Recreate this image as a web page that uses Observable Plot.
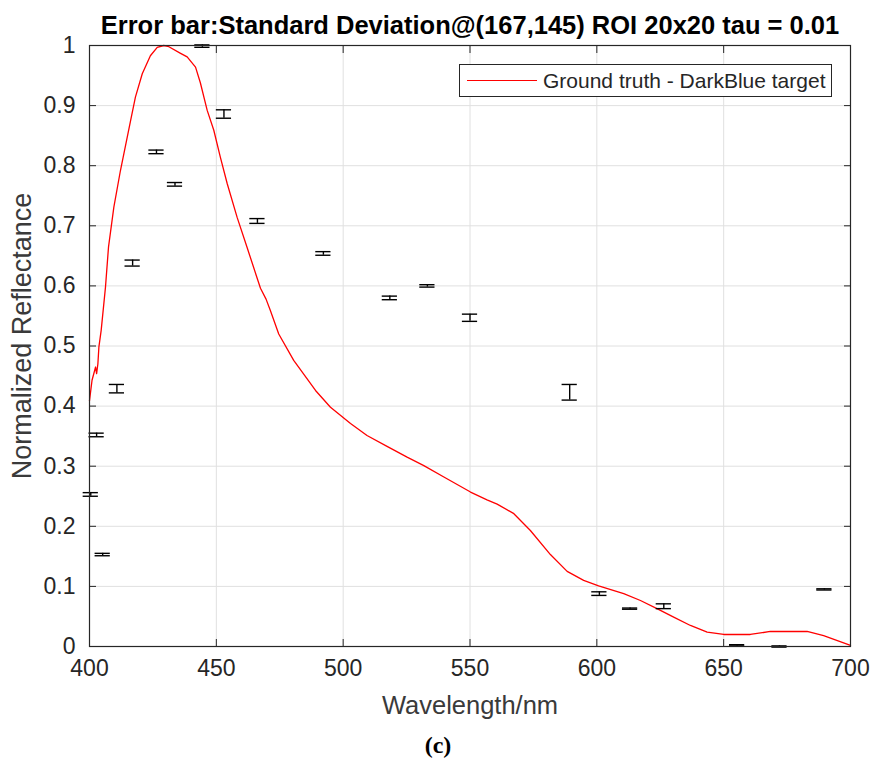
<!DOCTYPE html>
<html>
<head>
<meta charset="utf-8">
<script src="https://cdn.jsdelivr.net/npm/d3@7"></script>
<script src="https://cdn.jsdelivr.net/npm/@observablehq/plot@0.6"></script>
<style>
  html, body { margin: 0; padding: 0; background: #fff; }
  #wrap { position: relative; width: 875px; height: 765px; }
  #legend {
    position: absolute; left: 459px; top: 64px; width: 373px; height: 33px;
    border: 1px solid #262626; background: #fff; box-sizing: border-box;
    font-family: "Liberation Sans", Arial, sans-serif; font-size: 21px; color: #262626;
    display: flex; align-items: center;
  }
  #legend .sw { width: 70px; height: 0; border-top: 1.5px solid #ff0000; margin-left: 7px; margin-right: 6px; }
</style>
</head>
<body>
<div id="wrap"></div>
<script>
// ---- Text ----
const titleText = "Error bar:Standard Deviation@(167,145) ROI 20x20 tau = 0.01";
const xLabel = "Wavelength/nm";
const yLabel = "Normalized Reflectance";
const captionText = "(c)";
const legendLabel = "Ground truth - DarkBlue target";

// ---- Ticks ----
const xTicks = [400, 450, 500, 550, 600, 650, 700];
const yTicks = [0, 0.1, 0.2, 0.3, 0.4, 0.5, 0.6, 0.7, 0.8, 0.9, 1];

// ---- Ground truth curve ----
const gtWavelength = [400, 401, 402.4, 402.8, 403.3, 403.7, 404.6, 406.3, 407.5, 409.6, 412.2, 416.2, 418.1, 420.8, 424, 426.7, 429.3, 431.3, 435.9, 438.5, 441.8, 443.7, 446.4, 449, 451.6, 454.3, 458.2, 462.2, 467.4, 469.6, 471.3, 474.6, 480.5, 489.1, 495, 502.9, 509.4, 517.3, 525.2, 531.8, 539.7, 550.2, 556.7, 560.7, 567.3, 573.8, 581.7, 588.3, 594.8, 600.7, 610.6, 617.2, 623.7, 630.3, 636.9, 643.5, 650, 660.5, 668.4, 682.9, 689.4, 700];
const gtValue = [0.409, 0.443, 0.465, 0.454, 0.47, 0.498, 0.526, 0.598, 0.665, 0.731, 0.792, 0.875, 0.914, 0.953, 0.983, 0.997, 1.0, 0.998, 0.987, 0.981, 0.964, 0.938, 0.892, 0.859, 0.814, 0.77, 0.714, 0.663, 0.596, 0.578, 0.559, 0.52, 0.476, 0.426, 0.398, 0.371, 0.351, 0.333, 0.315, 0.301, 0.282, 0.257, 0.244, 0.237, 0.221, 0.193, 0.153, 0.125, 0.11, 0.101, 0.088, 0.0765, 0.063, 0.049, 0.035, 0.024, 0.02, 0.02, 0.025, 0.025, 0.018, 0.002];

// ---- Measured points with standard deviation ----
const ebWavelength = [400.5, 402.8, 405.2, 410.8, 417, 426.4, 433.7, 444.5, 453, 466.2, 492.2, 518.4, 533.2, 550, 589.3, 601, 613.1, 626.4, 655.3, 672, 689.7];
const ebMean = [0.253, 0.352, 0.153, 0.429, 0.638, 0.823, 0.769, 0.999, 0.886, 0.708, 0.654, 0.580, 0.600, 0.547, 0.423, 0.088, 0.063, 0.067, 0.002, 0.0, 0.095];
const ebStd = [0.003, 0.003, 0.002, 0.007, 0.005, 0.003, 0.003, 0.002, 0.007, 0.004, 0.003, 0.003, 0.002, 0.006, 0.013, 0.003, 0.001, 0.004, 0.001, 0.001, 0.001];
const capHalfWidth = 3; // nm

const gt = gtWavelength.map((w, i) => ({w, v: gtValue[i]}));
const eb = ebWavelength.map((w, i) => ({w, m: ebMean[i], s: ebStd[i]}));

const axisColor = "#262626";
const gridColor = "#e0e0e0";
const font = "'Liberation Sans', Arial, sans-serif";

const chart = Plot.plot({
  width: 875,
  height: 765,
  marginLeft: 89,
  marginRight: 25,
  marginTop: 45,
  marginBottom: 119,
  style: {fontFamily: font, background: "#fff"},
  x: {domain: [400, 700], label: null},
  y: {domain: [0, 1], label: null},
  marks: [
    Plot.gridX(xTicks, {stroke: gridColor, strokeOpacity: 1}),
    Plot.gridY(yTicks, {stroke: gridColor, strokeOpacity: 1}),
    Plot.line(gt, {x: "w", y: "v", stroke: "#ff0000", strokeWidth: 1.3}),
    Plot.ruleX(eb, {x: "w", y1: d => d.m - d.s, y2: d => d.m + d.s, stroke: "#000", strokeWidth: 1.4}),
    Plot.ruleY(eb, {y: d => d.m - d.s, x1: d => d.w - capHalfWidth, x2: d => d.w + capHalfWidth, stroke: "#000", strokeWidth: 1.4}),
    Plot.ruleY(eb, {y: d => d.m + d.s, x1: d => d.w - capHalfWidth, x2: d => d.w + capHalfWidth, stroke: "#000", strokeWidth: 1.4}),
    Plot.frame({stroke: axisColor, strokeWidth: 1.2}),
    // inward ticks
    Plot.axisX(xTicks, {anchor: "bottom", tickSize: 7, dy: -7, tickFormat: () => "", label: null, stroke: axisColor}),
    Plot.axisX(xTicks, {anchor: "top", tickSize: 7, dy: 7, tickFormat: () => "", label: null, stroke: axisColor}),
    Plot.axisY(yTicks, {anchor: "left", tickSize: 7, dx: 7, tickFormat: () => "", label: null, stroke: axisColor}),
    Plot.axisY(yTicks, {anchor: "right", tickSize: 7, dx: -7, tickFormat: () => "", label: null, stroke: axisColor}),
    // tick labels
    Plot.axisX(xTicks, {anchor: "bottom", tickSize: 0, tickPadding: 13, fontSize: 23, fill: axisColor, label: null, tickFormat: d => String(d)}),
    Plot.axisY(yTicks, {anchor: "left", tickSize: 0, tickPadding: 14, fontSize: 23, fill: axisColor, label: null, tickFormat: d => String(d)}),
    // axis labels, title, caption
    Plot.text([xLabel], {text: d => d, frameAnchor: "bottom", lineAnchor: "middle", dy: 59, fontSize: 25.5, fill: "#3a3a3a"}),
    Plot.text([yLabel], {text: d => d, frameAnchor: "left", textAnchor: "middle", lineAnchor: "middle", dx: -67, dy: -10, rotate: -90, fontSize: 27, fill: "#3a3a3a"}),
    Plot.text([titleText], {text: d => d, frameAnchor: "top", lineAnchor: "middle", dy: -20, fontSize: 25.5, fontWeight: "bold", fill: "#000"}),
    Plot.text([captionText], {text: d => d, frameAnchor: "bottom", lineAnchor: "middle", dx: -32, dy: 99, fontSize: 24, fontWeight: "bold", fontFamily: "'Liberation Serif', 'DejaVu Serif', serif", fill: "#000"})
  ]
});

const wrap = document.getElementById("wrap");
wrap.appendChild(chart);
const legend = document.createElement("div");
legend.id = "legend";
legend.innerHTML = `<span class="sw"></span><span></span>`;
legend.lastChild.textContent = legendLabel;
wrap.appendChild(legend);
</script>
</body>
</html>
